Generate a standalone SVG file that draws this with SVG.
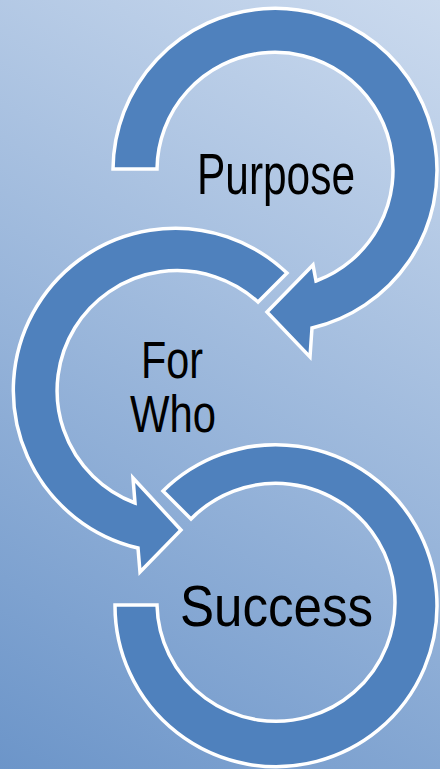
<svg xmlns="http://www.w3.org/2000/svg" width="440" height="769" viewBox="0 0 440 769">
  <defs>
    <linearGradient id="bg" x1="440" y1="0" x2="0" y2="769" gradientUnits="userSpaceOnUse">
      <stop offset="0" stop-color="#cbdaee"/>
      <stop offset="1" stop-color="#6c95c9"/>
    </linearGradient>
  </defs>
  <style>
    .arrow { fill: #4f81bd; stroke: #ffffff; stroke-width: 3.5; stroke-linejoin: miter; }
    .label { font-family: "Liberation Sans", Arial, sans-serif; fill: #000000; }
  </style>
  <rect x="0" y="0" width="440" height="769" fill="url(#bg)"/>
  <g id="connectors"></g>
  <g id="node-purpose">
    <path class="arrow" d="M 113 169 A 162 162 0 1 1 312 328 L 310 357 L 267 312 L 313 265 L 316 281 A 118 118 0 1 0 157 169 Z"/>
    <text class="label" x="197" y="194" font-size="58" textLength="158" lengthAdjust="spacingAndGlyphs">Purpose</text>
  </g>
  <g id="node-forwho">
    <path class="arrow" d="M 287 273 A 162 162 0 1 0 138 548 L 140 572 L 181 530 L 133 478 L 135 503 A 120 120 0 1 1 258 302 Z"/>
    <text class="label" x="141" y="378" font-size="51" textLength="62" lengthAdjust="spacingAndGlyphs">For</text>
    <text class="label" x="130" y="432" font-size="51" textLength="86" lengthAdjust="spacingAndGlyphs">Who</text>
  </g>
  <g id="node-success">
    <path class="arrow" d="M 163 491 A 161 161 0 1 1 115 605 L 157 605 A 119 119 0 1 0 191 519 Z"/>
    <text class="label" x="180" y="626" font-size="58" textLength="193" lengthAdjust="spacingAndGlyphs">Success</text>
  </g>
</svg>
